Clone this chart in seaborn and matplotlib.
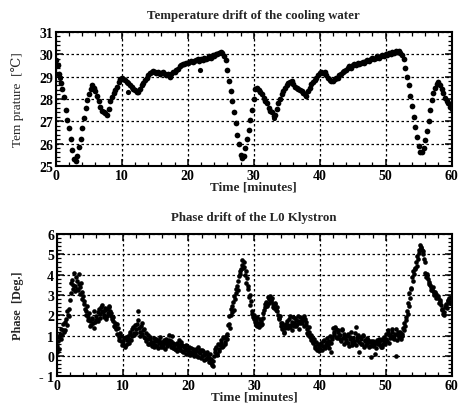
import numpy as np
import pandas as pd
import matplotlib
matplotlib.use("Agg")
import matplotlib.pyplot as plt
import seaborn as sns
from matplotlib.ticker import MultipleLocator, FuncFormatter

# temperature of the cooling water, one reading every 0.25 min (0..60)
temp_step = 0.25
temperature = [
    29.75, 29.5, 29.1, 28.7, 28.45, 28.1, 27.5, 27.05, 26.7, 26.2, 25.7, 25.3,
    25.2, 25.45, 25.85, 26.2, 26.7, 27.15, 27.6, 27.95, 28.2, 28.45, 28.6, 28.5,
    28.35, 28.15, 27.9, 27.65, 27.45, 27.4, 27.35, 27.3, 27.55, 27.9, 28.1, 28.25,
    28.4, 28.55, 28.75, 28.9, 28.95, 28.9, 28.85, 28.75, 28.7, 28.6, 28.55, 28.45,
    28.4, 28.3, 28.3, 28.45, 28.6, 28.7, 28.85, 28.95, 29.05, 29.15, 29.2, 29.25,
    29.2, 29.15, 29.2, 29.1, 29.15, 29.2, 29.1, 29.05, 29.1, 29.0, 29.1, 29.2,
    29.2, 29.3, 29.35, 29.45, 29.5, 29.55, 29.55, 29.6, 29.6, 29.65, 29.7, 29.65,
    29.7, 29.75, 29.8, 29.7, 29.8, 29.75, 29.85, 29.8, 29.85, 29.9, 29.85, 29.95,
    29.9, 30.0, 30.0, 30.05, 30.1, 30.05, 29.9, 29.75, 29.3, 28.8, 28.35, 27.9,
    27.4, 26.9, 26.4, 26.0, 25.5, 25.35, 25.45, 25.8, 26.2, 26.6, 27.05, 27.5,
    28.0, 28.45, 28.5, 28.4, 28.3, 28.2, 28.05, 27.9, 27.8, 27.6, 27.45, 27.4,
    27.25, 27.3, 27.55, 27.8, 28.0, 28.2, 28.35, 28.5, 28.6, 28.7, 28.75, 28.8,
    28.65, 28.55, 28.5, 28.45, 28.4, 28.35, 28.25, 28.2, 28.15, 28.35, 28.5, 28.65,
    28.75, 28.85, 28.95, 29.05, 29.15, 29.2, 29.15, 29.2, 29.05, 28.95, 28.85, 28.8,
    28.8, 28.9, 28.95, 28.95, 29.05, 29.1, 29.2, 29.25, 29.3, 29.4, 29.45, 29.4,
    29.5, 29.55, 29.5, 29.6, 29.55, 29.6, 29.65, 29.6, 29.7, 29.75, 29.7, 29.8,
    29.85, 29.8, 29.85, 29.9, 29.85, 29.9, 29.95, 29.9, 30.0, 29.95, 30.05, 30.0,
    30.1, 30.05, 30.15, 30.1, 30.15, 30.05, 29.95, 29.8, 29.4, 29.0, 28.6, 28.15,
    27.7, 27.2, 26.75, 26.3, 25.9, 25.6, 25.6, 25.8, 26.15, 26.55, 27.0, 27.5,
    27.95, 28.25, 28.5, 28.65, 28.75, 28.6, 28.45, 28.25, 28.05, 27.9, 27.8, 27.65,
    27.55,
]
# a few stray temperature readings
temp_stray_t = [11.0, 21.8, 33.1, 0.6]
temp_stray_v = [28.3, 29.3, 27.15, 28.95]

# klystron phase, read every 0.2 min from 0.0 and every 0.2 min from 0.1
phase_step = 0.2
phase = [
    0.2, 0.75, 0.95, 1.3, 1.05, 1.55, 1.25, 1.8, 2.2, 1.95,
    2.75, 3.6, 3.3, 4.1, 3.45, 3.7, 3.25, 4.05, 3.4, 3.15,
    2.95, 2.55, 2.2, 2.45, 1.9, 1.7, 1.5, 1.85, 1.35, 1.65,
    1.95, 1.7, 2.3, 2.05, 2.5, 2.15, 1.9, 2.35, 1.95, 2.1,
    2.4, 2.1, 1.8, 1.9, 1.6, 1.3, 1.55, 0.95, 1.15, 0.75,
    0.6, 0.9, 0.45, 0.8, 1.0, 0.65, 1.2, 1.0, 1.4, 1.15,
    1.3, 1.55, 2.2, 1.2, 1.45, 1.1, 1.3, 0.9, 0.75, 1.05,
    0.6, 0.85, 0.5, 0.7, 0.9, 0.55, 0.75, 0.4, 0.8, 0.6,
    0.7, 0.45, 0.65, 0.85, 0.5, 1.05, 0.6, 0.75, 0.4, 0.55,
    0.35, 0.65, 0.45, 0.8, 0.3, 0.55, 0.2, 0.45, 0.1, 0.35,
    0.3, 0.05, 0.4, 0.15, 0.25, 0.1, 0.35, -0.05, 0.2, 0.3,
    0.0, 0.25, -0.2, 0.1, -0.1, 0.05, -0.3, -0.15, -0.45, -0.25,
    0.2, 0.45, 0.1, 0.35, 0.55, 0.8, 0.5, 0.9, 0.7, 1.1,
    1.5, 1.95, 2.3, 2.15, 2.65, 2.95, 3.1, 3.45, 3.7, 4.05,
    4.3, 4.7, 4.4, 4.0, 3.6, 3.3, 2.9, 2.5, 2.2, 1.9,
    1.8, 1.5, 1.9, 1.6, 1.4, 1.7, 1.55, 2.1, 2.4, 2.65,
    2.5, 2.8, 2.95, 2.7, 2.55, 2.35, 2.6, 2.2, 2.0, 1.8,
    1.6, 1.3, 1.5, 1.15, 1.4, 1.7, 1.35, 1.95, 1.5, 1.25,
    1.6, 1.85, 1.45, 1.7, 1.3, 1.9, 1.6, 1.75, 1.95, 1.5,
    1.3, 1.05, 1.2, 0.8, 0.95, 0.65, 0.4, 0.7, 0.3, 0.5,
    0.35, 0.65, 0.5, 0.8, 0.45, 0.9, 0.55, 0.75, 0.2, 0.85,
    1.35, 1.1, 1.3, 0.9, 1.2, 1.05, 0.75, 1.25, 0.6, 0.95,
    0.8, 1.1, 0.5, 0.95, 0.7, 0.9, 0.65, 1.4, 0.8, 1.05,
    0.2, 0.85, 0.6, 1.0, 0.75, 0.55, 0.9, 0.7, 0.5, -0.05,
    0.75, 0.55, 0.1, 0.8, 0.6, 0.7, 0.45, 0.85, 0.6, 0.95,
    1.1, 0.75, 1.25, 0.9, 1.0, 1.3, 0.85, 1.1, 0.0, 1.2,
    0.95, 1.15, 1.0, 1.35, 1.6, 1.9, 2.2, 2.6, 3.1, 3.35,
    3.9, 4.2, 4.35, 4.6, 4.9, 5.2, 5.45, 5.3, 5.0, 4.75,
    4.1, 3.95, 3.8, 3.55, 3.4, 3.35, 3.2, 3.1, 3.05, 2.9,
    2.85, 2.65, 2.5, 2.3, 2.0, 2.4, 2.55, 2.7, 2.85, 2.6,
    2.65,
]
phase_b = [
    0.5, 0.35, 1.1, 0.85, 1.25, 1.2, 1.65, 1.5, 2.0, 2.3,
    3.1, 3.75, 3.5, 3.2, 3.9, 3.3, 3.55, 3.05, 3.6, 2.8,
    2.7, 2.3, 2.0, 1.75, 2.1, 1.45, 1.8, 1.6, 2.2, 1.75,
    1.8, 2.15, 1.85, 2.4, 2.2, 2.0, 2.25, 1.8, 2.3, 2.45,
    2.2, 1.95, 1.7, 1.45, 1.4, 1.1, 1.35, 0.8, 1.0, 0.55,
    0.75, 0.5, 0.95, 0.6, 0.85, 1.1, 0.8, 1.3, 1.05, 1.5,
    1.15, 1.75, 1.35, 1.0, 1.6, 1.25, 0.95, 1.15, 0.85, 0.6,
    0.95, 0.7, 0.65, 0.45, 0.75, 0.85, 0.5, 0.65, 0.95, 0.45,
    0.6, 0.8, 0.35, 0.7, 0.6, 0.8, 0.45, 1.0, 0.65, 0.35,
    0.6, 0.25, 0.55, 0.4, 0.7, 0.25, 0.5, 0.3, 0.55, 0.15,
    0.45, 0.2, 0.1, 0.35, 0.0, 0.25, 0.0, 0.45, 0.15, -0.1,
    0.3, 0.05, 0.15, -0.15, 0.2, -0.1, 0.1, -0.35, -0.5, 0.0,
    0.35, 0.05, 0.6, 0.25, 0.65, 0.45, 0.95, 0.6, 1.0, 0.85,
    1.55, 1.35, 2.0, 2.45, 2.25, 2.8, 3.3, 3.25, 3.95, 4.2,
    4.5, 4.35, 4.6, 4.2, 3.85, 3.45, 3.0, 2.7, 2.05, 2.0,
    1.65, 1.75, 1.45, 1.55, 1.8, 1.5, 1.85, 2.25, 2.55, 2.45,
    2.9, 2.6, 2.75, 2.85, 2.4, 2.55, 2.25, 2.4, 1.85, 1.95,
    1.45, 1.6, 1.2, 1.35, 1.55, 1.5, 1.8, 1.4, 1.65, 1.9,
    1.45, 1.75, 1.55, 1.95, 1.6, 1.7, 1.85, 1.45, 1.8, 1.65,
    1.15, 1.4, 0.95, 1.05, 0.7, 0.85, 0.5, 0.35, 0.6, 0.25,
    0.55, 0.3, 0.75, 0.4, 0.6, 0.7, 0.4, 1.0, 0.65, 0.95,
    1.2, 1.4, 0.95, 1.25, 1.05, 0.85, 1.3, 0.9, 1.1, 0.7,
    1.0, 0.65, 0.85, 1.2, 0.55, 0.75, 1.15, 0.55, 0.95, 0.7,
    0.95, 0.6, 1.05, 0.45, 0.8, 0.65, 0.8, 0.45, 0.75, 0.6,
    0.5, 0.7, 0.4, 0.65, 0.85, 0.55, 0.8, 0.45, 0.75, 0.6,
    0.85, 1.15, 0.65, 1.05, 1.2, 0.9, 1.0, 1.3, 0.8, 1.05,
    1.2, 0.85, 1.1, 1.25, 1.45, 1.75, 2.05, 2.45, 2.85, 3.3,
    3.7, 4.05, 4.3, 4.45, 4.75, 5.05, 5.35, 5.2, 5.15, 4.6,
    3.9, 4.05, 3.65, 3.5, 3.25, 3.4, 3.0, 3.15, 2.85, 2.95,
    2.6, 2.75, 2.25, 2.05, 2.15, 2.5, 2.35, 2.75, 2.6, 2.9,
]

temp_df = pd.DataFrame({"t": np.arange(len(temperature)) * temp_step, "v": temperature})
temp_stray = pd.DataFrame({"t": temp_stray_t, "v": temp_stray_v})
phase_df = pd.concat([
    pd.DataFrame({"t": np.arange(len(phase)) * phase_step, "v": phase}),
    pd.DataFrame({"t": 0.1 + np.arange(len(phase_b)) * phase_step, "v": phase_b}),
])

sns.set_style("ticks")
plt.rcParams["font.family"] = ["Liberation Serif", "DejaVu Serif"]

fig = plt.figure(figsize=(4.58, 4.06), dpi=100)
ax1 = fig.add_axes([0.122, 0.589, 0.864, 0.330])
ax2 = fig.add_axes([0.124, 0.071, 0.862, 0.350])


def tick_fmt(v, pos):
    # the original prints negative numbers with a gap: "- 1"
    return f"- {abs(v):g}" if v < 0 else f"{v:g}"


def style_axis(ax, ymin, ymax, title, ylabel, ylabel_bold, ylabel_size):
    ax.set_xlim(0, 60)
    ax.set_ylim(ymin, ymax)
    ax.xaxis.set_major_locator(MultipleLocator(10))
    ax.xaxis.set_minor_locator(MultipleLocator(2))
    ax.yaxis.set_major_locator(MultipleLocator(1))
    ax.yaxis.set_minor_locator(MultipleLocator(0.2))
    ax.yaxis.set_major_formatter(FuncFormatter(tick_fmt))
    ax.tick_params(which="both", direction="in", top=True, right=True, colors="black")
    ax.tick_params(which="major", length=5, width=1.1, labelsize=10, pad=2)
    ax.tick_params(which="minor", length=3, width=0.9)
    for lab in ax.get_xticklabels() + ax.get_yticklabels():
        lab.set_fontweight("bold")
    ax.grid(True, which="major", color="black", linestyle=(0, (2, 2)), linewidth=0.9)
    for sp in ax.spines.values():
        sp.set_linewidth(1.5)
        sp.set_color("black")
    ax.set_title(title, fontsize=9.3, fontweight="bold", pad=10)
    ax.set_xlabel("Time [minutes]", fontsize=9.5, fontweight="bold", labelpad=-1)
    ax.set_ylabel(ylabel, fontsize=ylabel_size,
                  fontweight="bold" if ylabel_bold else "normal", labelpad=11)


sns.scatterplot(data=temp_df, x="t", y="v", ax=ax1, color="black", s=17, linewidth=0, zorder=3)
sns.scatterplot(data=temp_stray, x="t", y="v", ax=ax1, color="black", s=14, linewidth=0, zorder=3)
style_axis(ax1, 25, 31, "Temperature drift of the cooling water", "Tem prature  [\u2103]", False, 9.5)

sns.scatterplot(data=phase_df, x="t", y="v", ax=ax2, color="black", s=11, linewidth=0, zorder=3)
style_axis(ax2, -1, 6, "Phase drift of the L0 Klystron", "Phase  [Deg.]", True, 8.8)

fig.savefig("out.png", dpi=100)
